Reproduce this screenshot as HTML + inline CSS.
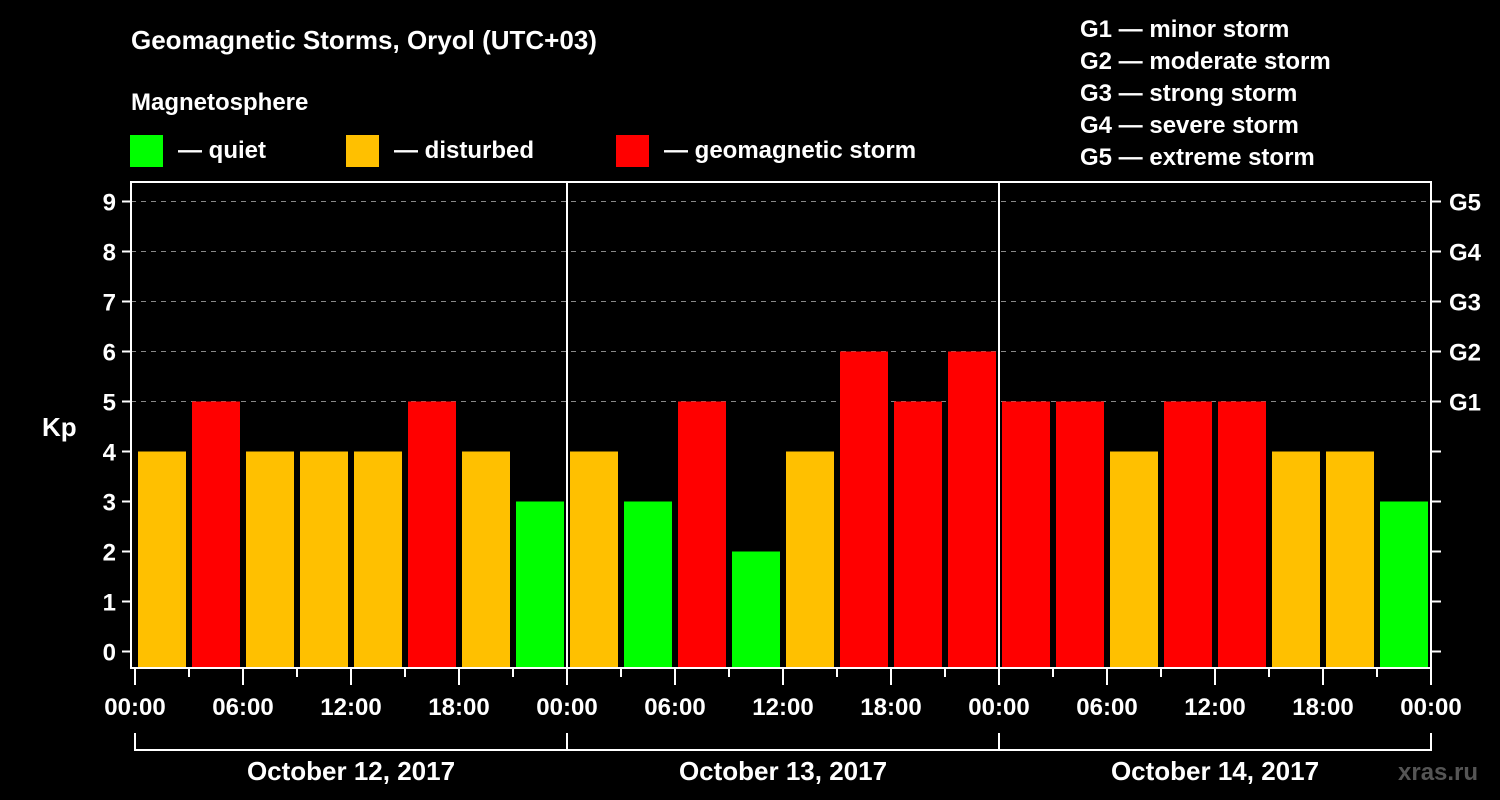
<!DOCTYPE html>
<html><head><meta charset="utf-8"><style>
html,body{margin:0;padding:0;background:#000;}
svg{display:block;font-family:"Liberation Sans",Arial,sans-serif;font-weight:bold;}
</style></head><body>
<svg id="chart" width="1500" height="800" viewBox="0 0 1500 800">
<rect width="1500" height="800" fill="#000"/>
<text x="131" y="49" fill="#fff" font-size="26">Geomagnetic Storms, Oryol (UTC+03)</text>
<text x="131" y="110" fill="#fff" font-size="24">Magnetosphere</text>
<g><rect x="130" y="135" width="33" height="32" fill="#00ff00"/><text x="178" y="158" fill="#fff" font-size="24">— quiet</text></g>
<g><rect x="346" y="135" width="33" height="32" fill="#ffc000"/><text x="394" y="158" fill="#fff" font-size="24">— disturbed</text></g>
<g><rect x="616" y="135" width="33" height="32" fill="#ff0000"/><text x="664" y="158" fill="#fff" font-size="24">— geomagnetic storm</text></g>
<g fill="#fff" font-size="24">
<text x="1080" y="37">G1 — minor storm</text>
<text x="1080" y="69">G2 — moderate storm</text>
<text x="1080" y="101">G3 — strong storm</text>
<text x="1080" y="133">G4 — severe storm</text>
<text x="1080" y="165">G5 — extreme storm</text>
</g>
<text x="42" y="436" fill="#fff" font-size="26">Kp</text>
<text x="1398" y="780" fill="#555" font-size="24">xras.ru</text>
<g id="plot"></g>
</svg>
<script>
const kpValues = [4,5,4,4,4,5,4,3, 4,3,5,2,4,6,5,6, 5,5,4,5,5,4,4,3];
const dayLabels = ["October 12, 2017","October 13, 2017","October 14, 2017"];
const hourLabels = ["00:00","06:00","12:00","18:00"];
const yTicks = [0,1,2,3,4,5,6,7,8,9];
const gLabels = ["G1","G2","G3","G4","G5"];
const gLevels = [5,6,7,8,9];

const NS="http://www.w3.org/2000/svg";
const plot=document.getElementById('plot');
const X0=135, PXH=18, Y0=651.5, PXU=50;
const xh=h=>X0+h*PXH;
const yv=v=>Y0-v*PXU;
function mk(tag,attrs,parent){const e=document.createElementNS(NS,tag);for(const k in attrs)e.setAttribute(k,attrs[k]);(parent||plot).appendChild(e);return e;}
function color(v){return v<4?"#00ff00":(v<5?"#ffc000":"#ff0000");}

// gridlines
gLevels.forEach(v=>{
  const l=mk('line',{x1:131,x2:1431,y1:yv(v),y2:yv(v),stroke:"#888","stroke-width":1,"stroke-dasharray":"5,5"});
  
  
});
// bars
kpValues.forEach((v,i)=>{
  const r=mk('rect',{x:xh(i*3)+3,y:yv(v),width:48,height:668-yv(v),fill:color(v)});
  
  
});
// frame
const fr=mk('rect',{x:131,y:182,width:1300,height:486,fill:"none",stroke:"#fff","stroke-width":2});


// day separators
for(let d=1;d<dayLabels.length;d++){
  const l=mk('line',{x1:xh(d*24),x2:xh(d*24),y1:182,y2:668,stroke:"#fff","stroke-width":2});
  
  
}
// y ticks
yTicks.forEach(v=>{
  const t=mk('line',{x1:122,x2:131,y1:yv(v),y2:yv(v),stroke:"#fff","stroke-width":2});
  
  
  const tr=mk('line',{x1:1431,x2:1441,y1:yv(v),y2:yv(v),stroke:"#fff","stroke-width":2});
  
  
  const lb=mk('text',{x:116,y:yv(v)+9,fill:"#fff","font-size":24,"text-anchor":"end"});
  lb.textContent=v;
  
  
});
gLevels.forEach((v,i)=>{
  const lb=mk('text',{x:1449,y:yv(v)+9,fill:"#fff","font-size":24});
  lb.textContent=gLabels[i];
  
  
});
// x ticks
for(let h=0;h<=72;h+=3){
  const major=h%6===0;
  const t=mk('line',{x1:xh(h),x2:xh(h),y1:668,y2:major?685:677,stroke:"#fff","stroke-width":2});
  
  
  if(major){
    const lb=mk('text',{x:xh(h),y:715,fill:"#fff","font-size":24,"text-anchor":"middle"});
    lb.textContent=hourLabels[(h/6)%4];
    
    
  }
}
// day brackets
const br=mk('path',{d:"",fill:"none",stroke:"#fff","stroke-width":2});
let dd="M"+xh(0)+",733 V750 H"+xh(72)+" V733";
for(let d=1;d<dayLabels.length;d++)dd+=" M"+xh(d*24)+",733 V750";
br.setAttribute('d',dd);


dayLabels.forEach((s,d)=>{
  const lb=mk('text',{x:xh(d*24+12),y:780,fill:"#fff","font-size":26,"text-anchor":"middle"});
  lb.textContent=s;
  
  
});
</script>
</body></html>
